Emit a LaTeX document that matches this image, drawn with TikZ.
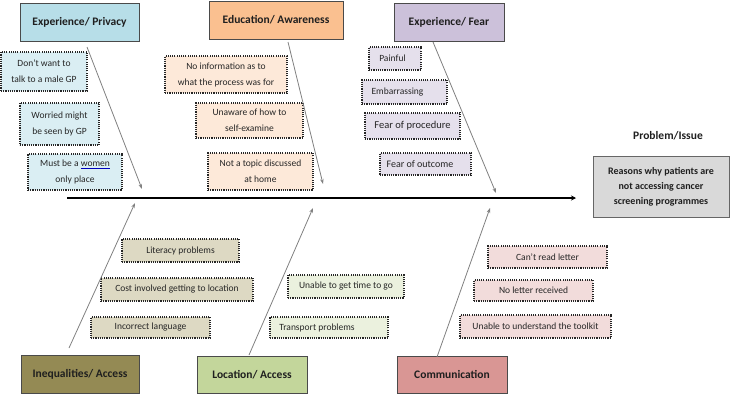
\documentclass[tikz,border=0pt]{standalone}
\usepackage{fontspec}
\setmainfont{Carlito}
\usetikzlibrary{arrows.meta}
\definecolor{priT}{HTML}{B7DEE8}\definecolor{priB}{HTML}{DAEEF3}
\definecolor{eduT}{HTML}{FAC090}\definecolor{eduB}{HTML}{FDE9D9}
\definecolor{feaT}{HTML}{CCC1DA}\definecolor{feaB}{HTML}{E5E0EC}
\definecolor{ineT}{HTML}{948A54}\definecolor{ineB}{HTML}{DDD9C3}
\definecolor{locT}{HTML}{C3D69B}\definecolor{locB}{HTML}{EBF1DE}
\definecolor{comT}{HTML}{D99694}\definecolor{comB}{HTML}{F2DCDB}
\definecolor{prbB}{HTML}{D9D9D9}
\definecolor{edge}{HTML}{4A4A4A}
\tikzset{
  titlebox/.style={draw=edge, line width=1pt, inner sep=0pt, align=center,
    font=\fontsize{11.5}{13}\selectfont\bfseries, text=black!88},
  cause/.style={draw=black!85, line width=1.3pt, dash pattern=on 1.1pt off 1.1pt,
    inner sep=0pt, align=center, font=\fontsize{9.5}{16}\selectfont, text=black!85},
  bone/.style={draw=black!50, line width=0.8pt, -{Stealth[length=5pt,width=3.5pt]}},
  spine/.style={draw=black, line width=2pt, -{Stealth[length=5pt,width=5pt]}}
}
\begin{document}
\begin{tikzpicture}[x=1pt,y=-1pt]
\useasboundingbox (0,0) rectangle (730,397);
% title boxes
\node[titlebox, minimum width=119pt, minimum height=38pt, fill=priT] (pri) at (79.5,22) {Experience/ Privacy};
\node[titlebox, minimum width=134pt, minimum height=38pt, fill=eduT] (edu) at (276,20) {Education/ Awareness};
\node[titlebox, minimum width=110pt, minimum height=38pt, fill=feaT] (fea) at (449,22) {Experience/ Fear};
\node[titlebox, minimum width=118pt, minimum height=38pt, fill=ineT] (ine) at (80,374) {Inequalities/ Access};
\node[titlebox, minimum width=110pt, minimum height=37pt, fill=locT] (loc) at (252,374.5) {Location/ Access};
\node[titlebox, minimum width=110pt, minimum height=37pt, fill=comT] (com) at (452,374.5) {Communication};
\node[titlebox, minimum width=136pt, minimum height=61pt, fill=prbB, draw=black!60,
  font=\fontsize{10}{15}\selectfont\bfseries] (prb) at (661,186.5)
  {Reasons why patients are\\not accessing cancer\\screening programmes};
\node[font=\fontsize{11.5}{13}\selectfont\bfseries, text=black!88] (prbl) at (668,136) {Problem/Issue};
% cause boxes: privacy
\node[cause, minimum width=86pt, minimum height=39pt, fill=priB] (p1) at (44,71.5) {Don't want to\\talk to a male GP};
\node[cause, minimum width=79pt, minimum height=42pt, fill=priB] (p2) at (59.5,124) {Worried might\\be seen by GP};
\node[cause, minimum width=94pt, minimum height=36pt, fill=priB] (p3) at (75,172)
  {Must be a {\color{blue!75!black}\underline{\color{black!85}women}}\\only place};
% education
\node[cause, minimum width=122pt, minimum height=37pt, fill=eduB] (e1) at (226,74.5) {No information as to\\what the process was for};
\node[cause, minimum width=107pt, minimum height=35pt, fill=eduB] (e2) at (249.5,120.5) {Unaware of how to\\self-examine};
\node[cause, minimum width=105pt, minimum height=37pt, fill=eduB] (e3) at (260.5,171.5) {Not a topic discussed\\at home};
% fear
\node[cause, minimum width=52pt, minimum height=23pt, fill=feaB] (f1) at (395,58.5) {\hspace*{-5pt}Painful};
\node[cause, minimum width=85pt, minimum height=24pt, fill=feaB] (f2) at (404.5,92) {Embarrassing\hspace*{14pt}};
\node[cause, minimum width=95pt, minimum height=26pt, fill=feaB, font=\fontsize{10.5}{12}\selectfont] (f3) at (412.5,126) {Fear of procedure};
\node[cause, minimum width=91pt, minimum height=22pt, fill=feaB, font=\fontsize{10}{12}\selectfont] (f4) at (425.5,164) {Fear of outcome\hspace*{11pt}};
% inequalities
\node[cause, minimum width=117pt, minimum height=23pt, fill=ineB] (i1) at (180.5,250.5) {Literacy problems};
\node[cause, minimum width=152pt, minimum height=23pt, fill=ineB] (i2) at (177,289.5) {Cost involved getting to location};
\node[cause, minimum width=119pt, minimum height=21pt, fill=ineB] (i3) at (150.5,327.5) {Incorrect language};
% location
\node[cause, minimum width=116pt, minimum height=23pt, fill=locB] (l1) at (346,286.5) {Unable to get time to go};
\node[cause, minimum width=118pt, minimum height=21pt, fill=locB] (l2) at (329,327.5) {Transport problems\hspace*{24pt}};
% communication
\node[cause, minimum width=119pt, minimum height=22pt, fill=comB] (c1) at (547.5,257) {Can't read letter};
\node[cause, minimum width=119pt, minimum height=21pt, fill=comB] (c2) at (533.5,290.5) {No letter received};
\node[cause, minimum width=151pt, minimum height=23pt, fill=comB] (c3) at (535.5,326.5) {Unable to understand the toolkit};
% spine
\coordinate (s0) at (67,198);
\coordinate (s1) at (576,198);
\draw[spine] (s0) -- (s1);
% bones
\coordinate (a0) at (87,47);   \coordinate (a1) at (142,189);
\coordinate (b0) at (288,42);  \coordinate (b1) at (323,184);
\coordinate (d0) at (433,42);  \coordinate (d1) at (496,193);
\coordinate (g0) at (69,348);  \coordinate (g1) at (135,203);
\coordinate (h0) at (249,355); \coordinate (h1) at (313,208);
\coordinate (k0) at (437,357); \coordinate (k1) at (490,208);
\draw[bone] (a0) -- (a1);
\draw[bone] (b0) -- (b1);
\draw[bone] (d0) -- (d1);
\draw[bone] (g0) -- (g1);
\draw[bone] (h0) -- (h1);
\draw[bone] (k0) -- (k1);
\end{tikzpicture}
\end{document}
